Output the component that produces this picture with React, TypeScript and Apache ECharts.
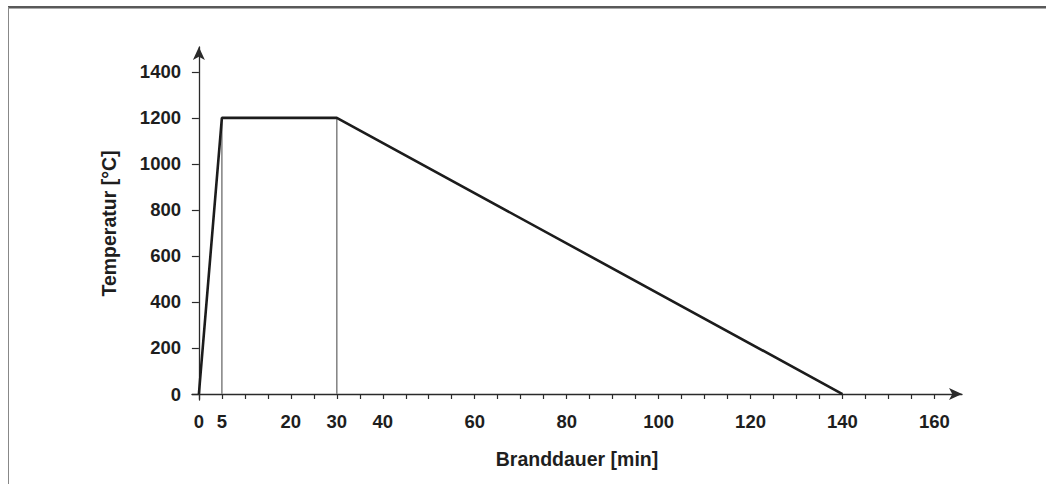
import React, { useEffect, useRef } from "react";
import * as echarts from "echarts";

const curveTime = [0, 5, 30, 140];
const curveTemp = [0, 1200, 1200, 0];
const markerTimes = [5, 30];
const markerTop = 1200;
const xTickValues = [0, 5, 10, 15, 20, 25, 30, 35, 40, 45, 50, 55, 60, 65, 70, 75, 80, 85, 90, 95, 100, 105, 110, 115, 120, 125, 130, 135, 140, 145, 150, 155, 160];
const xLabelValues = [0, 5, 20, 30, 40, 60, 80, 100, 120, 140, 160];
const yTickValues = [0, 200, 400, 600, 800, 1000, 1200, 1400];
const xTitle = "Branddauer [min]";
const yTitle = "Temperatur [°C]";

export default function App() {
  const ref = useRef<HTMLDivElement>(null);
  useEffect(() => {
    if (!ref.current) return;
    const chart = echarts.init(ref.current, undefined, { renderer: "svg" });
    const font = "'Liberation Sans', Arial, sans-serif";
    const lbl = { color: "#1e1e1e", fontFamily: font, fontWeight: "bold" as const, fontSize: 18.5 };
    const plain = (v: number) => String(v);
    const markerSeries = markerTimes.map((t) => ({
      type: "line" as const,
      data: [
        [t, 0],
        [t, markerTop],
      ],
      symbol: "none",
      lineStyle: { color: "#808080", width: 1.5 },
      silent: true,
      z: 2,
    }));
    chart.setOption({
      animation: false,
      backgroundColor: "#ffffff",
      grid: { left: 192, right: 84, top: 47, bottom: 84, containLabel: false },
      xAxis: {
        type: "value",
        min: -1.5,
        max: 166,
        name: xTitle,
        nameLocation: "middle",
        nameGap: 49,
        nameTextStyle: { ...lbl, fontSize: 19.5 },
        axisLine: {
          onZero: true,
          symbol: ["none", "arrow"],
          symbolSize: [9, 13],
          lineStyle: { color: "#2a2a2a", width: 1.3 },
        },
        axisTick: { show: true, inside: false, length: 5, customValues: xTickValues, lineStyle: { color: "#2a2a2a", width: 1.2 } },
        axisLabel: { ...lbl, margin: 12, customValues: xLabelValues, formatter: plain },
        splitLine: { show: false },
      },
      yAxis: {
        type: "value",
        min: -26,
        max: 1508,
        name: yTitle,
        nameLocation: "middle",
        nameGap: 73,
        nameRotate: 90,
        nameTextStyle: { ...lbl, fontSize: 19.5 },
        axisLine: {
          onZero: true,
          symbol: ["none", "arrow"],
          symbolSize: [9, 13],
          lineStyle: { color: "#2a2a2a", width: 1.3 },
        },
        axisTick: { show: true, length: 7, customValues: yTickValues, lineStyle: { color: "#2a2a2a", width: 1.2 } },
        axisLabel: { ...lbl, margin: 11, customValues: yTickValues, formatter: plain },
        splitLine: { show: false },
      },
      series: [
        ...markerSeries,
        {
          type: "line",
          data: curveTime.map((t, i) => [t, curveTemp[i]]),
          symbol: "none",
          lineStyle: { color: "#1c1c1c", width: 2.6 },
          z: 3,
        },
      ],
      graphic: [
        { type: "line", shape: { x1: 8, y1: 7, x2: 1046, y2: 7 }, style: { stroke: "#222", lineWidth: 1.5 } },
        { type: "line", shape: { x1: 8, y1: 8.5, x2: 1046, y2: 8.5 }, style: { stroke: "#aaa", lineWidth: 1 } },
        { type: "line", shape: { x1: 8.5, y1: 7, x2: 8.5, y2: 484 }, style: { stroke: "#888", lineWidth: 1 } },
      ],
    });
    return () => chart.dispose();
  }, []);
  return <div ref={ref} style={{ position: "fixed", left: 0, top: 0, width: 1046, height: 484 }} />;
}
